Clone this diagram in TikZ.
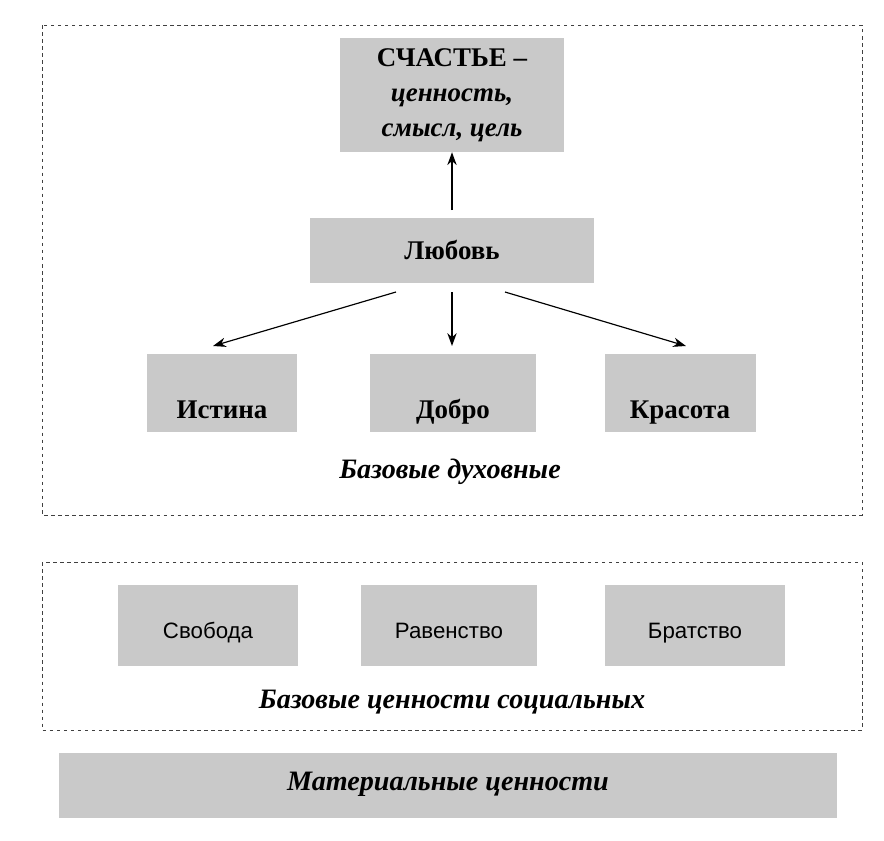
\documentclass[tikz,border=0pt]{standalone}
\usepackage{fontspec}
\setmainfont{Liberation Serif}
\newfontfamily\sansf{Liberation Sans}
\usetikzlibrary{arrows.meta,positioning}
\definecolor{boxgray}{HTML}{C9C9C9}
\tikzset{
  val/.style={fill=boxgray, draw=none, inner sep=0pt},
  grp/.style={draw=black!75, dashed, thin},
  big/.style={font=\fontsize{23}{30}\selectfont\bfseries},
  low/.style={text height=1.6cm, text depth=0.1cm},
  soc/.style={font=\sansf\fontsize{19}{22}\selectfont, text height=0.9cm, text depth=0.1cm},
  lbl/.style={font=\fontsize{24}{28}\selectfont\bfseries\itshape},
  arr/.style={-{Stealth[length=11pt,width=8pt]}, line width=1pt}
}
\begin{document}
\begin{tikzpicture}[x=0.03cm, y=-0.03cm]
        \useasboundingbox (0,0) rectangle (884,841);

        % dashed groups
        \draw[grp] (42,25) rectangle (862,515);
        \draw[grp] (42,562) rectangle (862,730);

        % top part
        \node[val, big, minimum width=6.72cm, minimum height=3.42cm, align=center] (happy) at (452,95)
              {СЧАСТЬЕ –\\ \itshape ценность,\\ \itshape смысл, цель};
        \node[val, big, minimum width=8.49cm, minimum height=1.95cm] (love) at (452,250) {Любовь};
        \node[val, big, low, minimum width=4.5cm, minimum height=2.34cm] (truth) at (222,393) {Истина};
        \node[val, big, low, minimum width=4.98cm, minimum height=2.34cm] (good) at (453,393) {Добро};
        \node[val, big, low, minimum width=4.53cm, minimum height=2.34cm] (beauty) at (680,393) {Красота};
        \node[lbl] (spirit) at (450,472) {Базовые духовные};

        \coordinate (loveT) at (452,210);
        \coordinate (loveL) at (396,292);
        \coordinate (loveM) at (452,292);
        \coordinate (loveR) at (505,292);
        \coordinate (truthT) at (213,346);
        \coordinate (goodT) at (452,346);
        \coordinate (beautyT) at (686,346);
        \draw[arr] (loveT) -- (happy.south);
        \draw[arr] (loveL) -- (truthT);
        \draw[arr] (loveM) -- (goodT);
        \draw[arr] (loveR) -- (beautyT);

        % social part
        \node[val, soc, minimum width=5.37cm, minimum height=2.43cm] (freedom) at (208,625) {Свобода};
        \node[val, soc, minimum width=5.25cm, minimum height=2.43cm] (equal) at (449,625) {Равенство};
        \node[val, soc, minimum width=5.4cm, minimum height=2.43cm] (brother) at (695,625) {Братство};
        \node[lbl] (social) at (452,702) {Базовые ценности социальных};

        % material base
        \node[val, lbl, text height=0.55cm, text depth=0.2cm, minimum width=23.31cm, minimum height=1.95cm] (material) at (448,785) {Материальные ценности};
\end{tikzpicture}
\end{document}
